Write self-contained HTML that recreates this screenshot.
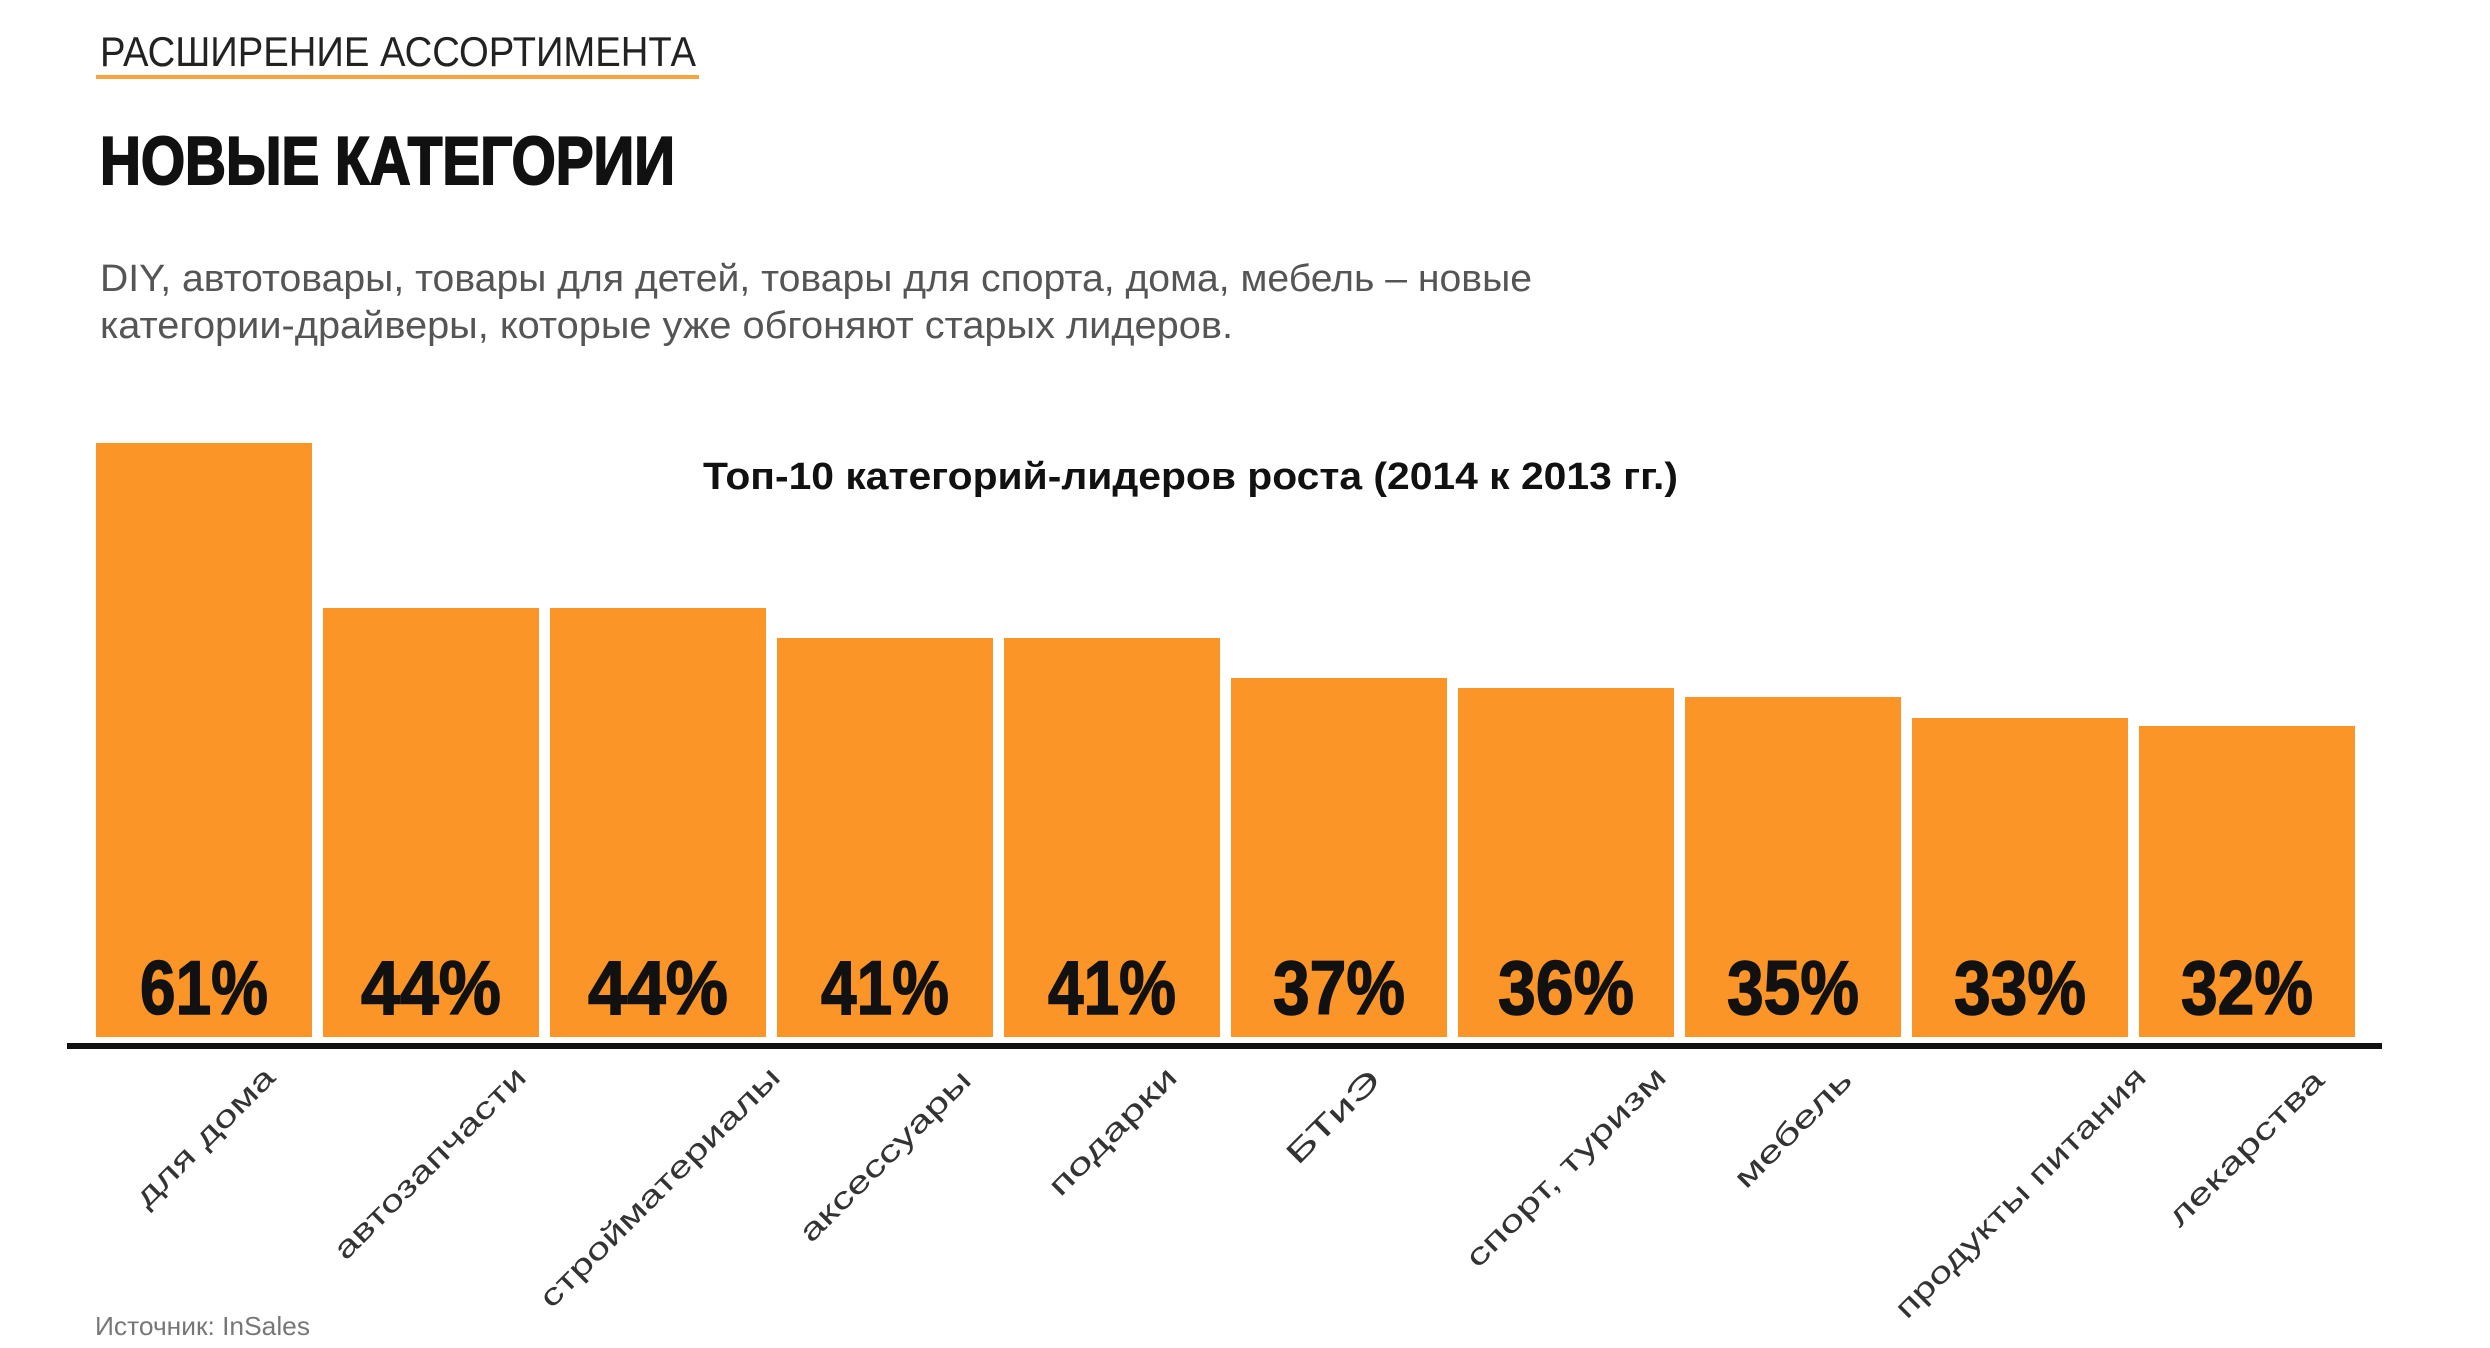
<!DOCTYPE html>
<html><head><meta charset="utf-8"><style>
html,body{margin:0;padding:0;background:#fff;}
svg{display:block;}
</style></head><body>
<svg width="2490" height="1348" viewBox="0 0 2490 1348" xmlns="http://www.w3.org/2000/svg" font-family="'Liberation Sans', sans-serif">
<text x="100" y="66" font-size="42" fill="#222" textLength="596" lengthAdjust="spacingAndGlyphs">РАСШИРЕНИЕ АССОРТИМЕНТА</text>
<rect x="96" y="75" width="603" height="4" fill="#f7a540"/>
<text x="100" y="184" font-size="68" font-weight="bold" fill="#111" stroke="#111" stroke-width="2" textLength="575" lengthAdjust="spacingAndGlyphs">НОВЫЕ КАТЕГОРИИ</text>
<text x="100" y="291" font-size="38" fill="#555" textLength="1432" lengthAdjust="spacingAndGlyphs">DIY, автотовары, товары для детей, товары для спорта, дома, мебель – новые</text>
<text x="100" y="338" font-size="38" fill="#555" textLength="1133" lengthAdjust="spacingAndGlyphs">категории-драйверы, которые уже обгоняют старых лидеров.</text>
<text x="703" y="489" font-size="38" font-weight="bold" fill="#111" textLength="975" lengthAdjust="spacingAndGlyphs">Топ-10 категорий-лидеров роста (2014 к 2013 гг.)</text>
<g fill="#fb9527">
<rect x="96" y="443" width="216" height="594"/>
<rect x="323" y="608" width="216" height="429"/>
<rect x="550" y="608" width="216" height="429"/>
<rect x="777" y="638" width="216" height="399"/>
<rect x="1004" y="638" width="216" height="399"/>
<rect x="1231" y="678" width="216" height="359"/>
<rect x="1458" y="688" width="216" height="349"/>
<rect x="1685" y="697" width="216" height="340"/>
<rect x="1912" y="718" width="216" height="319"/>
<rect x="2139" y="726" width="216" height="311"/>
</g>
<rect x="67" y="1043" width="2315" height="6" fill="#111"/>
<g font-size="76" font-weight="bold" fill="#111" text-anchor="middle" stroke="#111" stroke-width="1.5">
<text x="204" y="1014" textLength="128" lengthAdjust="spacingAndGlyphs">61%</text>
<text x="431" y="1014" textLength="140" lengthAdjust="spacingAndGlyphs">44%</text>
<text x="658" y="1014" textLength="140" lengthAdjust="spacingAndGlyphs">44%</text>
<text x="885" y="1014" textLength="128" lengthAdjust="spacingAndGlyphs">41%</text>
<text x="1112" y="1014" textLength="128" lengthAdjust="spacingAndGlyphs">41%</text>
<text x="1339" y="1014" textLength="132" lengthAdjust="spacingAndGlyphs">37%</text>
<text x="1566" y="1014" textLength="136" lengthAdjust="spacingAndGlyphs">36%</text>
<text x="1793" y="1014" textLength="132" lengthAdjust="spacingAndGlyphs">35%</text>
<text x="2020" y="1014" textLength="132" lengthAdjust="spacingAndGlyphs">33%</text>
<text x="2247" y="1014" textLength="132" lengthAdjust="spacingAndGlyphs">32%</text>
</g>
<g font-size="30" fill="#333" text-anchor="end">
<text transform="translate(277,1079) rotate(-45)" textLength="184" lengthAdjust="spacingAndGlyphs">для дома</text>
<text transform="translate(528,1079) rotate(-45)" textLength="258" lengthAdjust="spacingAndGlyphs">автозапчасти</text>
<text transform="translate(782,1079) rotate(-45)" textLength="326" lengthAdjust="spacingAndGlyphs">стройматериалы</text>
<text transform="translate(973,1082) rotate(-45)" textLength="229" lengthAdjust="spacingAndGlyphs">аксессуары</text>
<text transform="translate(1179,1079) rotate(-45)" textLength="168" lengthAdjust="spacingAndGlyphs">подарки</text>
<text transform="translate(1382,1082) rotate(-45)" textLength="119" lengthAdjust="spacingAndGlyphs">БТиЭ</text>
<text transform="translate(1668,1079) rotate(-45)" textLength="269" lengthAdjust="spacingAndGlyphs">спорт, туризм</text>
<text transform="translate(1854,1082) rotate(-45)" textLength="153" lengthAdjust="spacingAndGlyphs">мебель</text>
<text transform="translate(2148,1079) rotate(-45)" textLength="341" lengthAdjust="spacingAndGlyphs">продукты питания</text>
<text transform="translate(2326,1082) rotate(-45)" textLength="207" lengthAdjust="spacingAndGlyphs">лекарства</text>
</g>
<text x="95" y="1335" font-size="26" fill="#777" textLength="215" lengthAdjust="spacingAndGlyphs">Источник: InSales</text>
</svg>
</body></html>
